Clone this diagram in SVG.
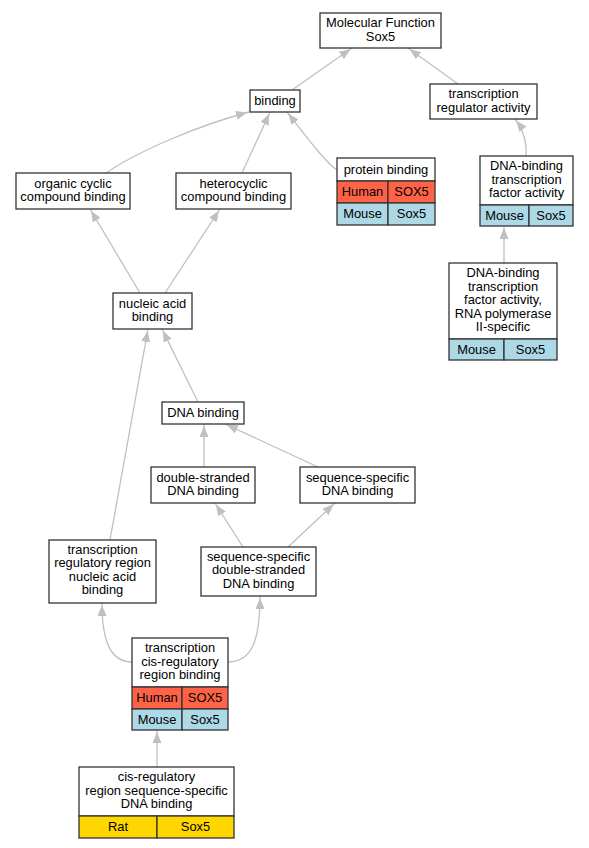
<svg xmlns="http://www.w3.org/2000/svg" width="589" height="848" viewBox="0 0 589 848">
<style>
.n{fill:#fff;stroke:#333;stroke-width:1.3}
.h{fill:#ff6347;stroke:#333;stroke-width:1.3}
.m{fill:#add8e6;stroke:#333;stroke-width:1.3}
.r{fill:#ffd700;stroke:#333;stroke-width:1.3}
text{font-family:"Liberation Sans",Arial,sans-serif;font-size:12.9px;text-anchor:middle;fill:#000}
.e{fill:none;stroke:#c0c0c0;stroke-width:1.3;marker-end:url(#a)}
</style>
<defs>
<marker id="a" viewBox="0 0 13 9" refX="13" refY="4.5" markerWidth="13" markerHeight="9" markerUnits="userSpaceOnUse" orient="auto">
<path d="M0,0L11,4.5L0,9z" fill="#c0c0c0"/>
</marker>
</defs>
<g id="edges">
<path class="e" d="M292,90L352,48"/>
<path class="e" d="M458,84L408,48"/>
<path class="e" d="M526,156C527,140 522,128 515,119"/>
<path class="e" d="M504,263L504,226"/>
<path class="e" d="M106,173C140,150 200,125 249,112"/>
<path class="e" d="M242,173L270,112"/>
<path class="e" d="M337,170C325,162 305,135 287,112"/>
<path class="e" d="M140,293L90,209"/>
<path class="e" d="M165,293L220,209"/>
<path class="e" d="M198,402L162,329"/>
<path class="e" d="M110,540L148,329"/>
<path class="e" d="M204,467L204,424"/>
<path class="e" d="M318,467L225,424"/>
<path class="e" d="M243,547L215,503"/>
<path class="e" d="M288,547L335,503"/>
<path class="e" d="M132,662C110,662 102,640 102,603"/>
<path class="e" d="M228,662C252,662 260,640 260,596"/>
<path class="e" d="M157,767L157,730"/>
</g>
<g id="mf"><rect class="n" x="320" y="13" width="121" height="35"/><text x="380.5" y="27">Molecular Function</text><text x="380.5" y="40.5">Sox5</text></g>
<g id="binding"><rect class="n" x="250" y="90" width="50" height="22"/><text x="275" y="105">binding</text></g>
<g id="tra"><rect class="n" x="430" y="84" width="107" height="35"/><text x="483.5" y="98">transcription</text><text x="483.5" y="111.5">regulator activity</text></g>
<g id="occb"><rect class="n" x="16" y="173" width="114" height="36"/><text x="73" y="187.5">organic cyclic</text><text x="73" y="201">compound binding</text></g>
<g id="hcb"><rect class="n" x="176" y="173" width="115" height="36"/><text x="233.5" y="187.5">heterocyclic</text><text x="233.5" y="201">compound binding</text></g>
<g id="pb"><rect class="n" x="337" y="158" width="98" height="23"/><text x="386" y="174">protein binding</text>
<rect class="h" x="337" y="181" width="51" height="22"/><text x="362.5" y="196">Human</text>
<rect class="h" x="388" y="181" width="47" height="22"/><text x="411.5" y="196">SOX5</text>
<rect class="m" x="337" y="203" width="51" height="22"/><text x="362.5" y="218">Mouse</text>
<rect class="m" x="388" y="203" width="47" height="22"/><text x="411.5" y="218">Sox5</text></g>
<g id="dbtfa"><rect class="n" x="480" y="156" width="93" height="49"/><text x="526.5" y="170">DNA-binding</text><text x="526.5" y="183.5">transcription</text><text x="526.5" y="197">factor activity</text>
<rect class="m" x="480" y="205" width="49" height="21"/><text x="504.5" y="219.5">Mouse</text>
<rect class="m" x="529" y="205" width="44" height="21"/><text x="551" y="219.5">Sox5</text></g>
<g id="pol2"><rect class="n" x="449" y="263" width="108" height="76"/><text x="503" y="277">DNA-binding</text><text x="503" y="290.5">transcription</text><text x="503" y="304">factor activity,</text><text x="503" y="317.5">RNA polymerase</text><text x="503" y="331">II-specific</text>
<rect class="m" x="449" y="339" width="55" height="21"/><text x="476.5" y="353.5">Mouse</text>
<rect class="m" x="504" y="339" width="53" height="21"/><text x="530.5" y="353.5">Sox5</text></g>
<g id="nab"><rect class="n" x="113" y="293" width="79" height="36"/><text x="152.5" y="307.5">nucleic acid</text><text x="152.5" y="321">binding</text></g>
<g id="dnab"><rect class="n" x="162" y="402" width="82" height="22"/><text x="203" y="417">DNA binding</text></g>
<g id="dsdb"><rect class="n" x="151" y="467" width="104" height="36"/><text x="203" y="481.5">double-stranded</text><text x="203" y="495">DNA binding</text></g>
<g id="ssdb"><rect class="n" x="300" y="467" width="115" height="36"/><text x="357.5" y="481.5">sequence-specific</text><text x="357.5" y="495">DNA binding</text></g>
<g id="trrnab"><rect class="n" x="49" y="540" width="107" height="63"/><text x="102.5" y="553.5">transcription</text><text x="102.5" y="567">regulatory region</text><text x="102.5" y="580.5">nucleic acid</text><text x="102.5" y="594">binding</text></g>
<g id="ssds"><rect class="n" x="201" y="547" width="115" height="49"/><text x="258.5" y="560.5">sequence-specific</text><text x="258.5" y="574">double-stranded</text><text x="258.5" y="587.5">DNA binding</text></g>
<g id="tcrrb"><rect class="n" x="132" y="638" width="96" height="49"/><text x="180" y="652">transcription</text><text x="180" y="665.5">cis-regulatory</text><text x="180" y="679">region binding</text>
<rect class="h" x="132" y="687" width="50" height="22"/><text x="157" y="702">Human</text>
<rect class="h" x="182" y="687" width="46" height="22"/><text x="205" y="702">SOX5</text>
<rect class="m" x="132" y="709" width="50" height="21"/><text x="157" y="723.5">Mouse</text>
<rect class="m" x="182" y="709" width="46" height="21"/><text x="205" y="723.5">Sox5</text></g>
<g id="crss"><rect class="n" x="79" y="767" width="155" height="49"/><text x="156.5" y="781">cis-regulatory</text><text x="156.5" y="794.5">region sequence-specific</text><text x="156.5" y="808">DNA binding</text>
<rect class="r" x="79" y="816" width="78" height="22"/><text x="118" y="831">Rat</text>
<rect class="r" x="157" y="816" width="77" height="22"/><text x="195.5" y="831">Sox5</text></g>
</svg>
